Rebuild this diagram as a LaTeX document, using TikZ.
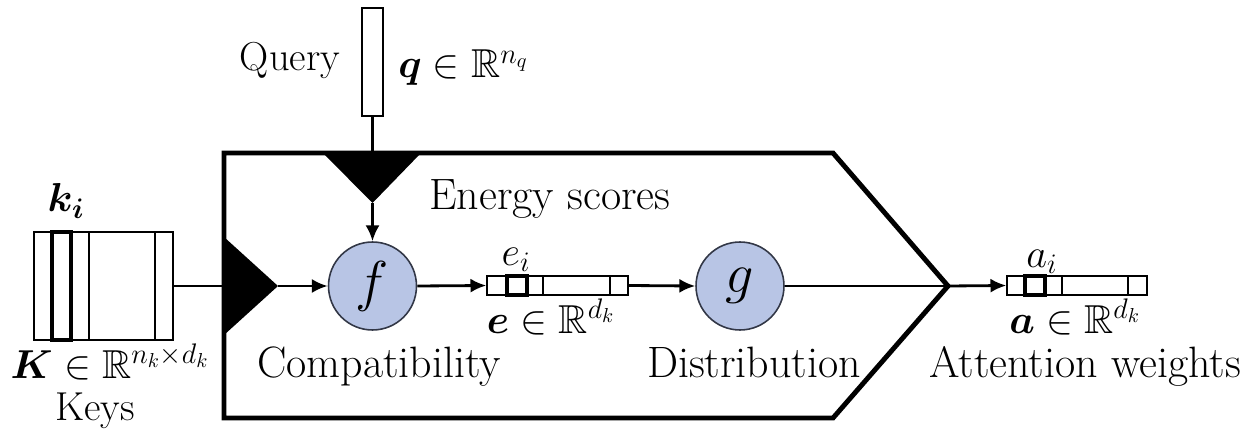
\RequirePackage{fix-cm}
\documentclass[tikz,border=0pt]{standalone}
\usepackage{amssymb,bm}
\usetikzlibrary{arrows.meta}
\definecolor{circfill}{RGB}{184,197,229}
\definecolor{circline}{RGB}{50,55,70}
\begin{document}
\begin{tikzpicture}[x=0.02cm,y=-0.02cm,
  lbl/.style={font=\fontsize{25}{29}\selectfont, inner sep=0pt},
  slbl/.style={font=\fontsize{23}{27}\selectfont, inner sep=0pt},
  mlbl/.style={font=\fontsize{23}{27}\selectfont, inner sep=0pt},
  vecbox/.style={draw, line width=0.8pt, inner sep=0pt},
  cell/.style={draw, line width=2pt},
  inner/.style={line width=0.8pt},
  conn/.style={line width=1.6pt},
  arr/.style={line width=1.6pt, -{Latex[length=9pt,width=8pt]}},
  frame/.style={line width=2.8pt, line join=miter},
  fn/.style={circle, draw=circline, line width=0.9pt, fill=circfill, minimum size=1.76cm, inner sep=0pt, font=\fontsize{32}{36}\selectfont}]
\useasboundingbox (0,0) rectangle (1250,432);

% main frame
\draw[frame] (224,153) -- (833,153) -- (948,286) -- (833,418) -- (224,418) -- cycle;
\coordinate (apex) at (948,286);

% query
\node[vecbox, minimum width=0.42cm, minimum height=2.16cm] (qbox) at (372.5,62) {};
\node[slbl, anchor=base] (querylbl) at (290,71) {Query};
\node[mlbl, anchor=base west] (qlbl) at (398,78) {$\bm{q}\in\mathbb{R}^{n_q}$};
\coordinate (qtop) at (372.5,153);
\coordinate (qapex) at (372.5,203);
\fill (323,153) -- (421,153) -- (qapex) -- cycle;
\draw[conn] (qbox.south) -- (qtop);

% keys
\node[vecbox, minimum width=2.78cm, minimum height=2.16cm] (K) at (103.5,286) {};
\draw[inner] (89,232) -- (89,340) (155,232) -- (155,340);
\draw[cell] (52,232) rectangle (71,340);
\node[mlbl, anchor=base] (kilbl) at (66,212) {$\bm{k_i}$};
\node[mlbl, anchor=base] (Klbl) at (110,378) {$\bm{K}\in\mathbb{R}^{n_k\times d_k}$};
\node[slbl, anchor=base] (keys) at (95,420) {Keys};
\coordinate (kin) at (224,286);
\coordinate (kapex) at (278,286);
\fill (224,237) -- (kapex) -- (224,335) -- cycle;
\draw[conn] (K.east) -- (kin);

% compatibility f
\node[fn] (f) at (372.5,286) {$f$};
\draw[arr] (qapex) -- (f.north);
\draw[arr] (kapex) -- (f.west);
\node[lbl, anchor=base west] (energy) at (429,210) {Energy scores};
\node[lbl, anchor=base] (compat) at (379,377) {Compatibility};

% e vector
\node[vecbox, minimum width=2.82cm, minimum height=0.38cm] (e) at (557.5,285.5) {};
\draw[inner] (543,276) -- (543,295) (610,276) -- (610,295);
\draw[cell] (507,276) rectangle (527,295);
\node[mlbl, anchor=base] (eilbl) at (516,265) {$e_i$};
\node[mlbl, anchor=base] (elbl) at (551,333) {$\bm{e}\in\mathbb{R}^{d_k}$};
\draw[arr] (f.east) -- (e.west);

% distribution g
\node[fn] (g) at (740,286) {$g$};
\draw[arr] (e.east) -- (g.west);
\node[lbl, anchor=base] (distr) at (754,377) {Distribution};
\draw[conn] (g.east) -- (apex);

% a vector
\node[vecbox, minimum width=2.8cm, minimum height=0.38cm] (a) at (1077,285.5) {};
\draw[inner] (1062,276) -- (1062,295) (1128,276) -- (1128,295);
\draw[cell] (1025,276) rectangle (1045,295);
\node[mlbl, anchor=base] (ailbl) at (1042,267) {$a_i$};
\node[mlbl, anchor=base] (albl) at (1075,333) {$\bm{a}\in\mathbb{R}^{d_k}$};
\draw[arr] (apex) -- (a.west);
\node[lbl, anchor=base] (attn) at (1085,377) {Attention weights};
\end{tikzpicture}
\end{document}
